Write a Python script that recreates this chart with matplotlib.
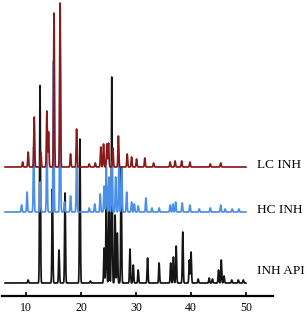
import numpy as np
import matplotlib
matplotlib.use('Agg')
import matplotlib.pyplot as plt

plt.rcParams['font.family'] = ['Liberation Serif', 'DejaVu Serif']

# peak positions (2theta) and heights (px)
api_pos = [10.4, 12.55, 14.8, 16.0, 17.1, 19.8, 21.7, 24.2, 24.6, 25.1, 25.6, 26.2, 26.6, 27.3,
           28.9, 29.5, 30.4, 32.1, 34.2, 36.3, 36.8, 37.3, 38.5, 39.7, 40.0, 41.3, 43.3, 43.9,
           45.0, 45.5, 46.0, 47.4, 48.6, 49.5]
api_h = [3, 199, 94, 33, 90, 144, 2, 35, 97, 75, 206, 68, 50, 116,
         34, 18, 13, 25, 20, 20, 26, 37, 51, 23, 31, 4, 5, 4,
         13, 23, 7, 3, 3, 3]

hc_pos = [9.2, 10.2, 11.4, 12.6, 13.8, 15.0, 16.2, 17.0, 18.1, 19.2, 21.5, 22.5, 23.5, 24.2,
          24.6, 25.1, 25.6, 26.3, 26.9, 27.4, 28.3, 29.2, 29.7, 30.4, 31.8, 32.9, 34.2, 36.2,
          36.7, 37.2, 38.4, 39.8, 41.5, 43.5, 45.4, 46.2, 47.5, 48.7]
hc_h = [7, 20, 65, 30, 69, 151, 170, 10, 16, 45, 4, 8, 18, 26,
        45, 35, 50, 35, 50, 45, 20, 10, 8, 6, 14, 4, 4, 7,
        8, 10, 9, 7, 3, 4, 7, 3, 3, 3]

lc_pos = [9.4, 10.4, 11.5, 12.7, 13.8, 14.1, 15.1, 16.2, 18.1, 19.2, 21.5, 22.6, 23.6, 24.1,
          24.7, 25.0, 25.8, 26.8, 28.4, 29.2, 30.1, 31.6, 33.2, 36.2, 37.1, 38.3, 39.8, 43.5,
          45.4]
lc_h = [5, 15, 50, 15, 56, 35, 154, 164, 13, 38, 3, 4, 20, 23,
        23, 24, 19, 31, 13, 10, 8, 9, 4, 5, 6, 6, 5, 3,
        4]

labels = ['INH API', 'HC INH', 'LC INH']
offsets = [13, 84, 129]
label_y = [25, 86, 131]
colors = ['#151515', '#4a8fe8', '#8a1a1a']
ticks = [10, 20, 30, 40, 50]

tt = np.arange(6.2, 50.0, 0.02)


def pattern(pos, h):
    y = np.zeros_like(tt)
    for p, a in zip(pos, h):
        y += a * np.exp(-0.5 * ((tt - p) / 0.08) ** 2)
    return y


fig = plt.figure(figsize=(3.07, 3.16), dpi=100)
ax = fig.add_axes([2 / 307, 20 / 316, 271 / 307, 296 / 316])

series = [(api_pos, api_h), (hc_pos, hc_h), (lc_pos, lc_h)]
for (pos, h), off, ly, c, lab in zip(series, offsets, label_y, colors, labels):
    ax.plot(tt, pattern(pos, h) + off, color=c, lw=1.25, clip_on=False)
    ax.text(52.0, ly, lab, fontsize=9.5, va='center', ha='left', clip_on=False)

ax.set_xlim(5.64, 54.9)
ax.set_ylim(0, 296)
for s in ['top', 'right', 'left']:
    ax.spines[s].set_visible(False)
ax.spines['bottom'].set_linewidth(1.6)
ax.set_yticks([])
ax.set_xticks(ticks)
ax.tick_params(axis='x', direction='in', length=3, width=1.2, pad=4, labelsize=8.5)

fig.savefig('out.png', dpi=100)
